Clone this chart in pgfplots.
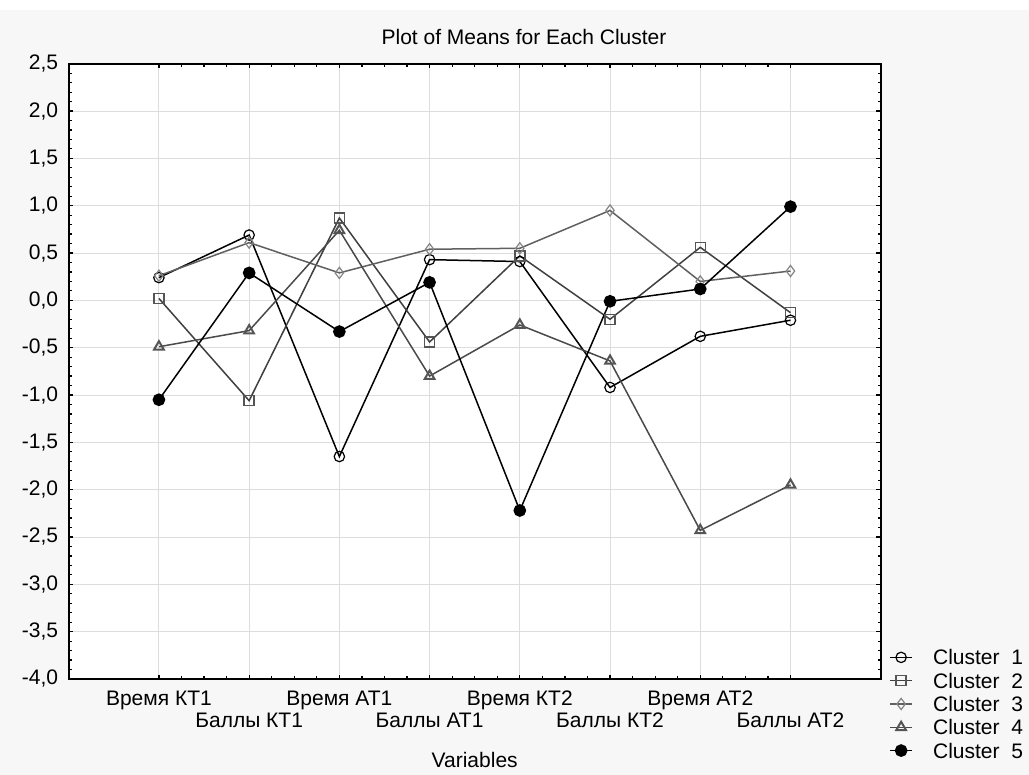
\documentclass[border=0pt]{standalone}
\usepackage{fontspec}
\setmainfont{Liberation Sans}
\usepackage{pgfplots}
\pgfplotsset{compat=1.18}
\definecolor{bg}{HTML}{F7F7F7}
\definecolor{gridc}{HTML}{DDDDDD}
\definecolor{cB}{HTML}{404040}
\definecolor{cBm}{HTML}{555555}
\definecolor{cC}{HTML}{606060}
\definecolor{cCm}{HTML}{858585}
\definecolor{cD}{HTML}{4A4A4A}
\definecolor{cDm}{HTML}{555555}
\begin{document}
\begin{tikzpicture}
\useasboundingbox (0pt,0pt) rectangle (514.5pt,387.5pt);
\fill[white] (0pt,0pt) rectangle (514.5pt,387.5pt);
\fill[bg] (0pt,0pt) rectangle (514.5pt,382.3pt);
\node[font=\fontsize{10.5}{12}\selectfont] at (262pt,369pt) {Plot of Means for Each Cluster};
\begin{axis}[
  at={(34.35pt,48pt)}, anchor=south west,
  width=406pt, height=307.65pt, scale only axis,
  xmin=-1, xmax=8, ymin=-4, ymax=2.5,
  xtick={0,1,2,3,4,5,6,7},
  xticklabels={{Время КТ1},{\vphantom{В}\\Баллы КТ1},{Время АТ1},{\vphantom{В}\\Баллы АТ1},{Время КТ2},{\vphantom{В}\\Баллы КТ2},{Время АТ2},{\vphantom{В}\\Баллы АТ2}},
  minor x tick num=3,
  ytick={-4,-3.5,-3,-2.5,-2,-1.5,-1,-0.5,0,0.5,1,1.5,2,2.5},
  yticklabels={{-4,0},{-3,5},{-3,0},{-2,5},{-2,0},{-1,5},{-1,0},{-0,5},{0,0},{0,5},{1,0},{1,5},{2,0},{2,5}},
  minor y tick num=4,
  grid=major,
  major grid style={gridc, line width=0.5pt},
  axis line style={line width=1pt},
  tick style={black, line width=0.6pt},
  major tick length=2.2pt, minor tick length=1.6pt,
  axis background/.style={fill=white},
  tick label style={font=\fontsize{10.5}{11}\selectfont},
  xticklabel style={align=center, anchor=north, yshift=-2.5pt},
  yticklabel style={xshift=-1.8pt},
  xlabel={Variables},
  xlabel style={font=\fontsize{10.5}{12}\selectfont, at={(axis description cs:0.5,0)}, anchor=center, yshift=-40.5pt},
  legend style={at={(1.0102,0.0547)}, anchor=north west, draw=none, fill=none, inner sep=0pt, row sep=0pt,
    font=\fontsize{10.5}{11}\selectfont,
    nodes={inner xsep=0pt, inner ysep=0pt, text height=9.575pt, text depth=2.075pt},
    cells={anchor=west}},
  legend image code/.code={\draw[#1, mark=none] (0pt,0pt) -- (11pt,0pt); \draw[mark repeat=2,mark phase=2,#1, draw=none] plot coordinates {(0pt,0pt) (5.5pt,0pt) (11pt,0pt)}; \path[draw=none,fill=none] (0pt,0pt) -- (21.5pt,0pt);},
]
\addplot[black, line width=0.75pt, mark=o, mark size=2.6pt, mark options={solid, draw=black, line width=0.6pt, fill=none}]
  coordinates {(0,0.24) (1,0.69) (2,-1.65) (3,0.43) (4,0.41) (5,-0.92) (6,-0.38) (7,-0.21)};
\addlegendentry{Cluster\ \ 1}
\addplot[cB, line width=0.75pt, mark=square, mark size=2.5pt, mark options={solid, draw=cBm, line width=0.7pt, fill=none}]
  coordinates {(0,0.02) (1,-1.06) (2,0.87) (3,-0.44) (4,0.47) (5,-0.20) (6,0.56) (7,-0.13)};
\addlegendentry{Cluster\ \ 2}
\addplot[cC, line width=0.75pt, mark=diamond, mark size=2.8pt, mark options={solid, draw=cCm, line width=0.6pt, fill=none}]
  coordinates {(0,0.26) (1,0.61) (2,0.29) (3,0.54) (4,0.55) (5,0.95) (6,0.20) (7,0.31)};
\addlegendentry{Cluster\ \ 3}
\addplot[cD, line width=0.75pt, mark=triangle, mark size=2.8pt, mark options={solid, draw=cDm, line width=1pt, fill=white}]
  coordinates {(0,-0.49) (1,-0.32) (2,0.74) (3,-0.80) (4,-0.26) (5,-0.64) (6,-2.43) (7,-1.95)};
\addlegendentry{Cluster\ \ 4}
\addplot[black, line width=0.75pt, mark=*, mark size=2.8pt, mark options={solid, draw=black, fill=black}]
  coordinates {(0,-1.05) (1,0.29) (2,-0.33) (3,0.19) (4,-2.22) (5,-0.01) (6,0.12) (7,0.99)};
\addlegendentry{Cluster\ \ 5}
\end{axis}
\end{tikzpicture}
\end{document}
